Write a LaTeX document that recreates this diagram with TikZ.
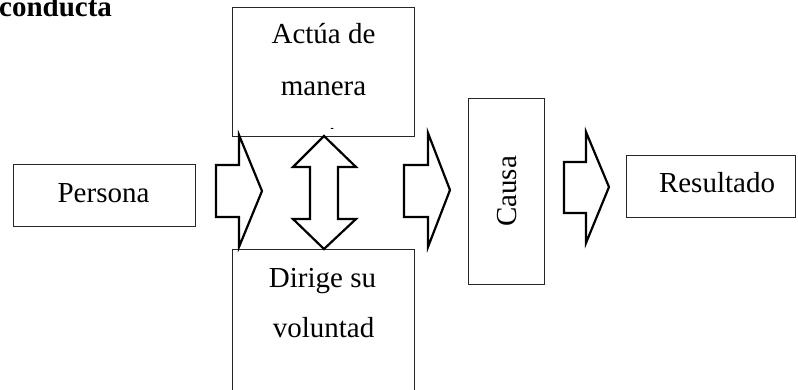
\documentclass[tikz,border=0pt]{standalone}
\usepackage{fontspec}
\setmainfont{Liberation Serif}
\begin{document}
\begin{tikzpicture}[x=1pt,y=-1pt,
  box/.style={draw=black!85,line width=1pt,fill=white},
  blockarrow/.style={draw=black,line width=2.2pt,fill=white,line join=miter},
  lbl/.style={inner sep=0pt,anchor=base,font=\fontsize{29}{50}\selectfont}]
\useasboundingbox (0,0) rectangle (798,389);
\clip (0,0) rectangle (798,389);
% boxes
\draw[box] (232,7) rectangle (414,136);
\coordinate (actua) at (323,71);
\draw[box] (232,249) rectangle (414,420);
\coordinate (dirige) at (323,330);
\node[box,minimum width=182pt,minimum height=62pt,inner sep=0pt] (persona) at (104,195) {};
\node[box,minimum width=76pt,minimum height=186pt,inner sep=0pt] (causa) at (506,191) {};
\node[box,minimum width=169pt,minimum height=62pt,inner sep=0pt] (resultado) at (710.5,186) {};
% texts
\node[lbl,font=\fontsize{29}{50}\selectfont\bfseries,anchor=base west] (titulo) at (-1,16) {conducta};
\node[lbl] (t1) at (323.5,43) {Actúa de};
\node[lbl] (t2) at (323.5,95) {manera};
\begin{scope}
  \clip (232,7) rectangle (414,128.6);
  \node[lbl] (t3) at (323.5,147) {consciente};
\end{scope}
\node[lbl] (t4) at (322.5,287) {Dirige su};
\node[lbl] (t5) at (323.5,337) {voluntad};
\node[lbl] (tp) at (103.5,202) {Persona};
\node[lbl] (tr) at (717,192) {Resultado};
\node[inner sep=0pt,rotate=90,font=\fontsize{29}{50}\selectfont] (tc) at (507,191.5) {Causa};
% block arrows
\draw[blockarrow] (216,165) -- (239,165) -- (239,135) -- (262,191) -- (239,247) -- (239,217) -- (216,217) -- cycle;
\draw[blockarrow] (324,136) -- (356,167) -- (338,167) -- (338,219) -- (356,219) -- (324,249) -- (293,219) -- (310,219) -- (310,167) -- (293,167) -- cycle;
\draw[blockarrow] (404,165) -- (428,165) -- (428,133) -- (450,190) -- (428,247) -- (428,217) -- (404,217) -- cycle;
\draw[blockarrow] (564,162) -- (586,162) -- (586,132) -- (609,187) -- (586,243) -- (586,213) -- (564,213) -- cycle;
\end{tikzpicture}
\end{document}
